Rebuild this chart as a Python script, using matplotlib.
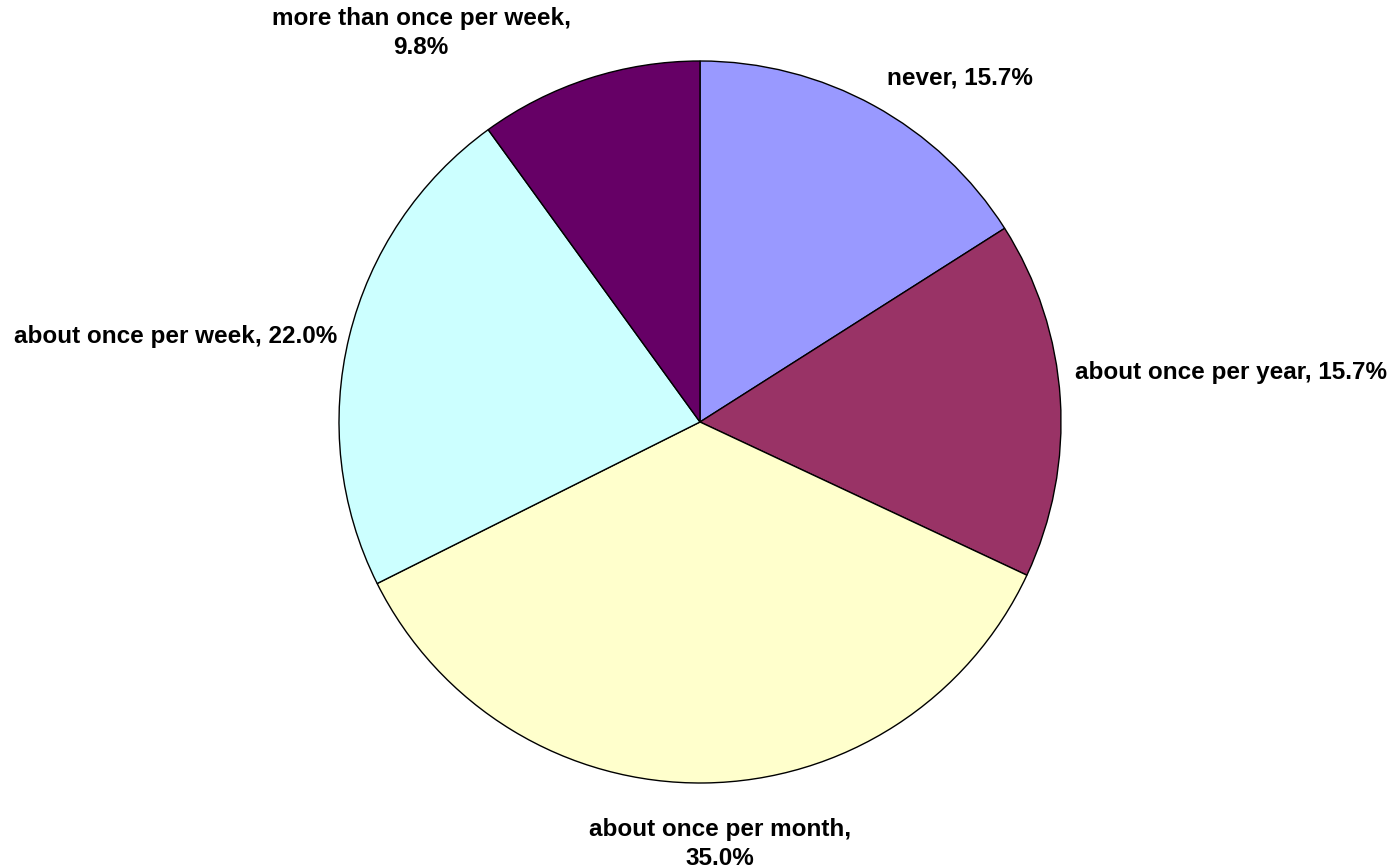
import matplotlib
matplotlib.use("Agg")
import matplotlib.pyplot as plt

categories = ["never", "about once per year", "about once per month",
              "about once per week", "more than once per week"]
values = [15.7, 15.7, 35.0, 22.0, 9.8]
label_texts = ["never, 15.7%", "about once per year, 15.7%",
               "about once per month,\n35.0%", "about once per week, 22.0%",
               "more than once per week,\n9.8%"]
colors = ["#9999FF", "#993366", "#FFFFCC", "#CCFFFF", "#660066"]

W, H = 1399, 867
fig = plt.figure(figsize=(W / 100, H / 100), dpi=100)
cx, cy, r = 700, 422, 361
ax = fig.add_axes([(cx - r) / W, (H - cy - r) / H, 2 * r / W, 2 * r / H])
ax.pie(values, colors=colors, startangle=90, counterclock=False,
       wedgeprops=dict(edgecolor="black", linewidth=1.0), radius=1.0)
ax.set_xlim(-1, 1)
ax.set_ylim(-1, 1)
ax.set_aspect("equal")
ax.axis("off")

def d(px, py):
    return (px - cx) / r, (cy - py) / r

# label placements (pixel positions, anchor)
placements = [
    ((960, 78), "center", "center"),
    ((1075, 372), "left", "center"),
    ((720, 844), "center", "center"),
    ((337, 337), "right", "center"),
    ((421, 33), "center", "center"),
]
for txt, (pos, ha, va) in zip(label_texts, placements):
    x, y = d(*pos)
    ax.text(x, y, txt, ha=ha, va=va, fontsize=17.5, fontweight="bold",
            family="Liberation Sans", multialignment="center",
            linespacing=1.28, clip_on=False)

fig.savefig("out.png", dpi=100)
